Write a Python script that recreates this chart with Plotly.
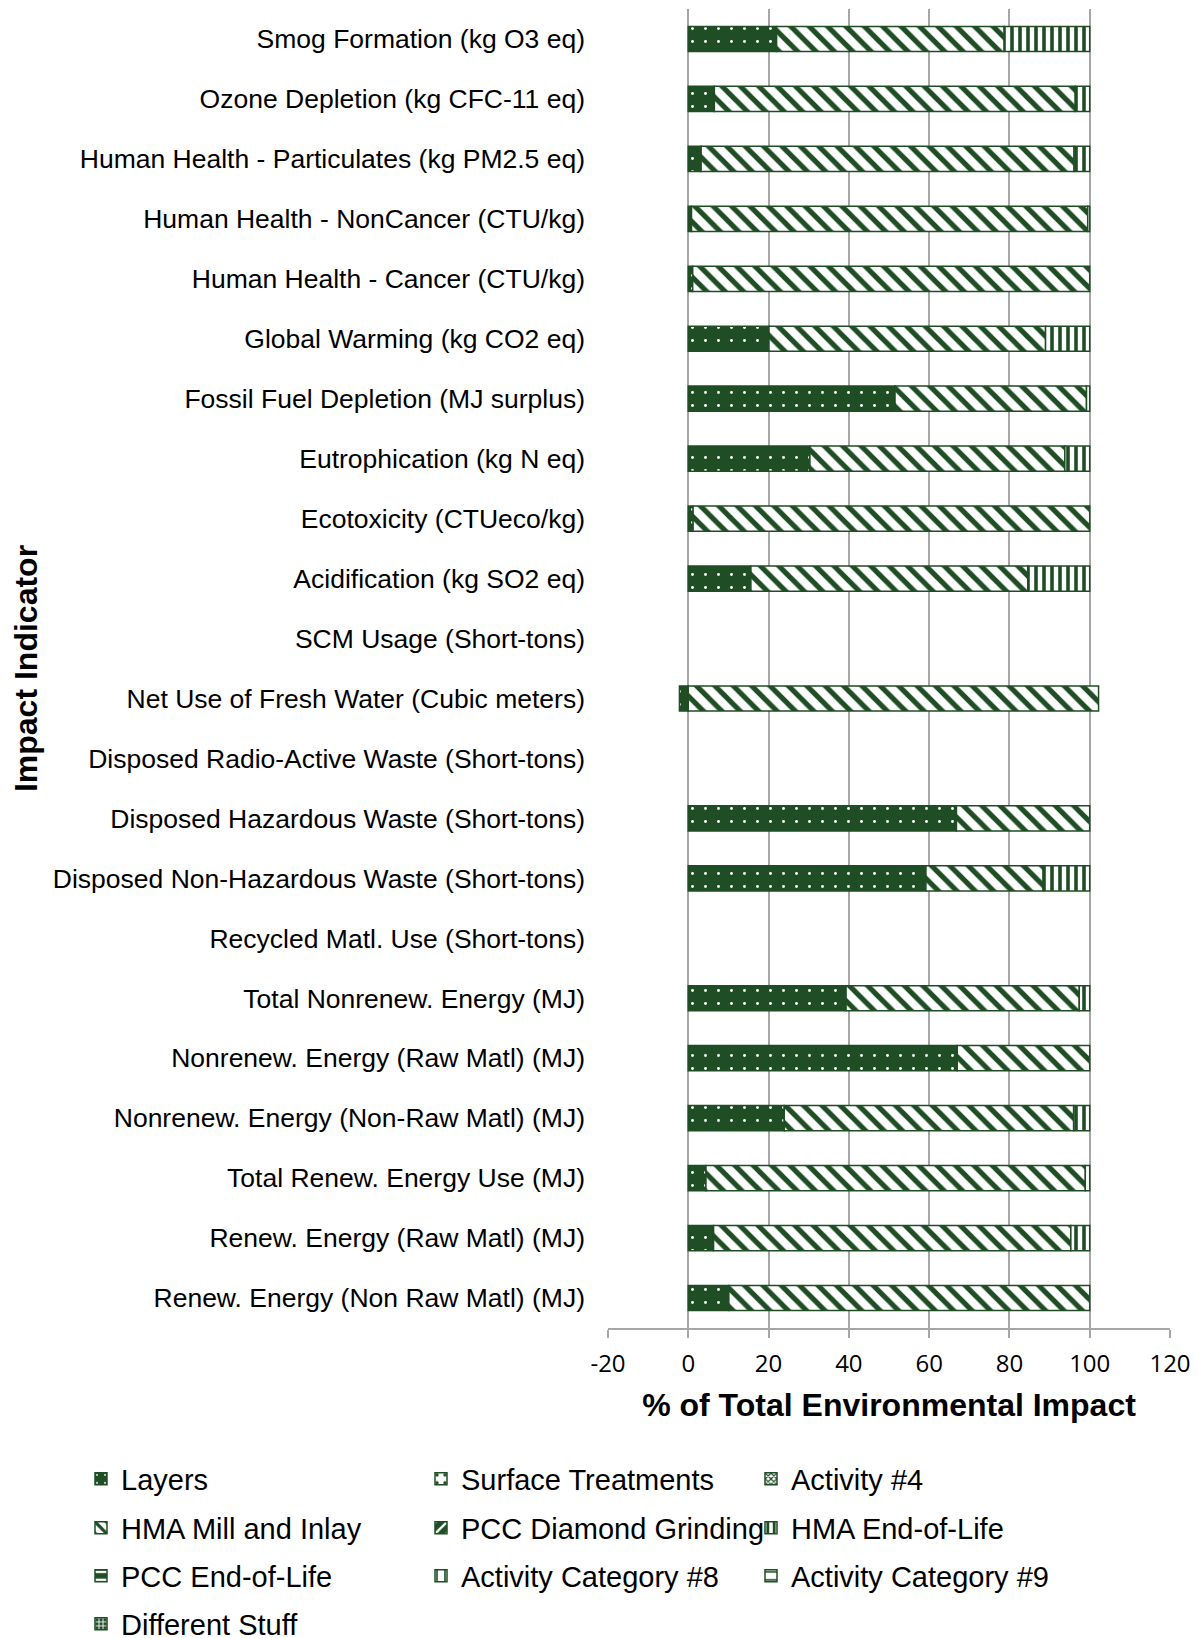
import plotly.graph_objects as go

# --- data (% of total environmental impact) ---
indicators = [
    'Smog Formation (kg O3 eq)',
    'Ozone Depletion (kg CFC-11 eq)',
    'Human Health - Particulates (kg PM2.5 eq)',
    'Human Health - NonCancer (CTU/kg)',
    'Human Health - Cancer (CTU/kg)',
    'Global Warming (kg CO2 eq)',
    'Fossil Fuel Depletion (MJ surplus)',
    'Eutrophication (kg N eq)',
    'Ecotoxicity (CTUeco/kg)',
    'Acidification (kg SO2 eq)',
    'SCM Usage (Short-tons)',
    'Net Use of Fresh Water (Cubic meters)',
    'Disposed Radio-Active Waste (Short-tons)',
    'Disposed Hazardous Waste (Short-tons)',
    'Disposed Non-Hazardous Waste (Short-tons)',
    'Recycled Matl. Use (Short-tons)',
    'Total Nonrenew. Energy (MJ)',
    'Nonrenew. Energy (Raw Matl) (MJ)',
    'Nonrenew. Energy (Non-Raw Matl) (MJ)',
    'Total Renew. Energy Use (MJ)',
    'Renew. Energy (Raw Matl) (MJ)',
    'Renew. Energy (Non Raw Matl) (MJ)',
]

layers = [22.0, 6.5, 3.2, 0.8, 1.1, 20.1, 51.5, 30.3, 1.2, 15.6, 0,
          -2.2, 0, 66.8, 59.2, 0, 39.3, 67.0, 23.9, 4.4, 6.3, 10.1]
surface_treatments = [0, 0, 0, 0, 0, 0, 0, 0, 0, 0, 0,
                      0, 0, 0, 0, 0, 0, 0, 0, 0, 0, 0]
activity_4 = [0, 0, 0, 0, 0, 0, 0, 0, 0, 0, 0,
              0, 0, 0, 0, 0, 0, 0, 0, 0, 0, 0]
hma_mill_inlay = [56.7, 89.9, 92.9, 98.7, 98.9, 68.9, 47.7, 63.5, 98.8, 69.0, 0,
                  102.2, 0, 33.2, 29.2, 0, 58.1, 33.0, 72.1, 94.5, 89.0, 89.9]
pcc_diamond_grinding = [0, 0, 0, 0, 0, 0, 0, 0, 0, 0, 0,
                        0, 0, 0, 0, 0, 0, 0, 0, 0, 0, 0]
hma_end_of_life = [21.3, 3.6, 3.9, 0.5, 0, 11.0, 0.8, 6.2, 0, 15.4, 0,
                   0, 0, 0, 11.6, 0, 2.6, 0, 4.0, 1.1, 4.7, 0]
pcc_end_of_life = [0, 0, 0, 0, 0, 0, 0, 0, 0, 0, 0,
                   0, 0, 0, 0, 0, 0, 0, 0, 0, 0, 0]
activity_cat_8 = [0, 0, 0, 0, 0, 0, 0, 0, 0, 0, 0,
                  0, 0, 0, 0, 0, 0, 0, 0, 0, 0, 0]
activity_cat_9 = [0, 0, 0, 0, 0, 0, 0, 0, 0, 0, 0,
                  0, 0, 0, 0, 0, 0, 0, 0, 0, 0, 0]
different_stuff = [0, 0, 0, 0, 0, 0, 0, 0, 0, 0, 0,
                   0, 0, 0, 0, 0, 0, 0, 0, 0, 0, 0]

x_ticks = [-20, 0, 20, 40, 60, 80, 100, 120]

# --- styling ---
green = '#1F4D24'
grid = '#A6A6A6'
font_family = 'Liberation Sans, Arial, sans-serif'

# page body adds an 8px margin, so the figure is sized to the visible area
W, H = 1190, 1630

# name, values, pattern shape, background, foreground, pattern size, solidity
series = [
    ('Layers', layers, '.', green, 'white', 13, 0.04),
    ('Surface Treatments', surface_treatments, '.', 'white', green, 10, 0.15),
    ('Activity #4', activity_4, 'x', 'white', green, 5, 0.5),
    ('HMA Mill and Inlay', hma_mill_inlay, '\\', 'white', green, 13, 0.4),
    ('PCC Diamond Grinding', pcc_diamond_grinding, '/', green, 'white', 10, 0.3),
    ('HMA End-of-Life', hma_end_of_life, '|', 'white', green, 8, 0.45),
    ('PCC End-of-Life', pcc_end_of_life, '-', green, 'white', 10, 0.3),
    ('Activity Category #8', activity_cat_8, '|', 'white', green, 10, 0.2),
    ('Activity Category #9', activity_cat_9, '-', 'white', green, 10, 0.2),
    ('Different Stuff', different_stuff, '+', green, 'white', 5, 0.4),
]

# legend grid: 3 columns, text start x and row centre y (figure pixels)
legend_col_x = [115, 455, 785]
legend_row_y = [1471, 1520, 1568, 1616]

fig = go.Figure()
layout_legends = {}

for i, (name, vals, shape, bg, fg, size, solid) in enumerate(series):
    lid = 'legend' if i == 0 else f'legend{i + 1}'
    fig.add_trace(go.Bar(
        y=indicators,
        x=[v if v != 0 else None for v in vals],
        orientation='h',
        name=name,
        width=0.42,
        legend=lid,
        showlegend=True,
        marker=dict(
            color=bg,
            line=dict(color=green, width=1.5),
            pattern=dict(shape=shape, bgcolor=bg, fgcolor=fg,
                         size=size, solidity=solid, fillmode='replace'),
        ),
    ))
    col, row = i % 3, i // 3
    layout_legends[lid] = dict(
        orientation='h',
        xref='container', yref='container',
        x=(legend_col_x[col] - 42) / W, xanchor='left',
        y=1 - legend_row_y[row] / H, yanchor='middle',
        font=dict(family=font_family, size=29, color='black'),
        bgcolor='rgba(0,0,0,0)',
    )

n = len(indicators)

fig.update_layout(
    barmode='relative',
    showlegend=True,
    width=W, height=H,
    margin=dict(l=600, r=28, t=1, b=310),
    plot_bgcolor='white',
    paper_bgcolor='white',
    font=dict(family=font_family, color='black'),
    xaxis=dict(
        range=[-20, 120],
        tickvals=x_ticks,
        ticktext=[str(v) for v in x_ticks],
        showgrid=True, gridcolor=grid, gridwidth=1.5,
        zeroline=False,
        showline=True, linecolor=grid, linewidth=1.5,
        ticks='outside', ticklen=8, tickcolor=grid, tickwidth=1.5,
        ticklabelstandoff=5,
        tickfont=dict(family='Open Sans, sans-serif', size=24, color='black'),
        title=dict(text='<b>% of Total Environmental Impact</b>',
                   font=dict(family=font_family, size=32, color='black'),
                   standoff=16),
    ),
    yaxis=dict(
        type='category',
        categoryorder='array', categoryarray=indicators,
        range=[n - 0.5, -0.5],
        showgrid=False, zeroline=False, showline=False,
        ticks='', ticklabelstandoff=22,
        tickfont=dict(family=font_family, size=26.5, color='black'),
        title=dict(text='<b>Impact Indicator</b>',
                   font=dict(family=font_family, size=32, color='black'),
                   standoff=15),
    ),
    # category axis line + boundary ticks drawn at x = 0
    yaxis2=dict(
        overlaying='y', anchor='free', position=20 / 140, side='left',
        range=[n - 0.5, -0.5],
        tickvals=[k - 0.5 for k in range(n + 1)],
        showticklabels=False,
        showgrid=False, zeroline=False,
        showline=True, linecolor=grid, linewidth=1.5,
        ticks='outside', ticklen=8, tickcolor=grid, tickwidth=1.5,
    ),
    **layout_legends,
)

fig.write_html("out.html")
